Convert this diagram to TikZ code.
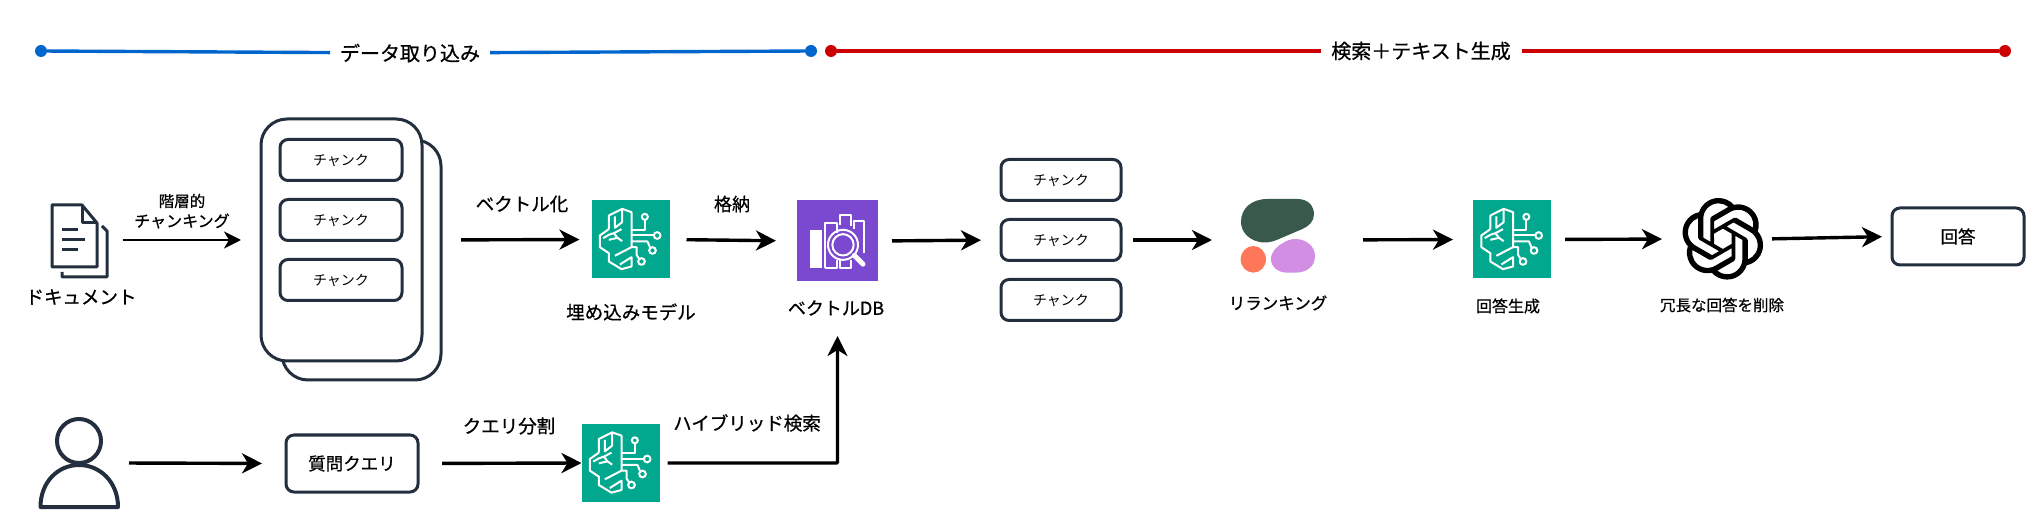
\documentclass[tikz,border=0pt]{standalone}
\usepackage{fontspec}
\setmainfont{Noto Sans CJK JP}
\newfontfamily\jpb[FakeBold=0.7]{Noto Sans CJK JP}
\usetikzlibrary{arrows.meta,svg.path}
\definecolor{ink}{HTML}{232F3E}
\definecolor{awsgreen}{HTML}{01A88D}
\definecolor{awspurple}{HTML}{7A49D0}
\definecolor{lineblue}{HTML}{0066CC}
\definecolor{linered}{HTML}{CC0000}
\definecolor{coheredark}{RGB}{57,89,77}
\definecolor{cohereorange}{RGB}{255,119,89}
\definecolor{coherepurple}{RGB}{209,142,226}
\tikzset{
  arr/.style={line width=3.4pt,-{Stealth[length=20pt,width=20pt,inset=6pt]}},
  thinarr/.style={line width=2.4pt,-{Stealth[length=17pt,width=17pt,inset=5pt]}},
  rbox/.style={draw=ink,line width=3pt,rounded corners=8pt,fill=white,outer sep=0pt,inner sep=0pt,text=black},
  card/.style={draw=ink,line width=3pt,rounded corners=26pt,fill=white,outer sep=0pt,inner sep=0pt},
  lbl/.style={inner sep=0pt,outer sep=0pt,text=black},
  ghost/.style={inner sep=0pt,outer sep=0pt},
  iconbox/.style={minimum width=78pt,minimum height=78pt,fill=#1,inner sep=0pt,outer sep=0pt},
  wire/.style={draw=white,line width=2pt,line join=round,fill=none},
  dot/.style={circle,minimum size=12pt,inner sep=0pt,outer sep=0pt,fill=#1},
}
\newcommand{\brainicon}[1]{%
  \begin{scope}[shift={(#1.north west)},x=0.3333pt,y=-0.3333pt]
    \draw[wire] (52,86) -- (52,45) -- (92,25) -- (120,35) -- (120,140) -- (70,166);
    \draw[wire] (52,86) -- (25,105) -- (25,140) -- (52,158) -- (52,183) -- (90,206) -- (120,198) -- (120,170) -- (85,192);
    \draw[wire] (120,88) -- (160,88) -- (160,58);
    \draw[wire] (120,105) -- (187,105);
    \draw[wire] (120,123) -- (168,123) -- (176,142);
    \draw[wire] (120,140) -- (135,140) -- (135,163) -- (143,175);
    \draw[wire] (92,25) -- (92,65) -- (70,82) -- (70,48);
    \draw[wire] (35,113) -- (52,103) -- (67,98) -- (90,86);
    \draw[wire] (67,98) -- (78,112) -- (92,122);
    \draw[wire] (52,118) -- (78,112);
    \draw[wire] (160,49) circle (9);
    \draw[wire] (197,105) circle (10);
    \draw[wire] (183,150) circle (10);
    \draw[wire] (150,183) circle (10);
  \end{scope}}
\begin{document}
\begin{tikzpicture}[x=1pt,y=-1pt]
\useasboundingbox (0,0) rectangle (2035,518);
% header lines
\node[dot=lineblue] (d1) at (41,51) {};
\node[dot=lineblue] (d2) at (811,51) {};
\node[lbl,minimum width=160pt,minimum height=26pt,font=\jpb\fontsize{20}{24}\selectfont] (h1) at (410,53) {データ取り込み};
\draw[lineblue,line width=3.4pt] (d1) -- (h1) -- (d2);
\node[dot=linered] (d3) at (831,51) {};
\node[dot=linered] (d4) at (2005,51) {};
\node[lbl,minimum width=201pt,minimum height=26pt,font=\jpb\fontsize{20}{24}\selectfont] (h2) at (1421,51) {検索＋テキスト生成};
\draw[linered,line width=3.4pt] (d3) -- (h2) -- (d4);
% document icon
\node[ghost,minimum width=57pt,minimum height=76pt] (doc) at (80,240) {};
\draw[ink,line width=3pt,line join=round,fill=white] (52,205) -- (82,205) -- (97,223) -- (97,267) -- (52,267) -- cycle;
\draw[ink,line width=3pt,line join=round] (82,205) -- (82,223) -- (97,223);
\draw[ink,line width=3pt,line join=round] (102,226) -- (107,231) -- (107,277) -- (62,277) -- (62,272);
\draw[ink,line width=3pt] (62,230) -- (78,230) (62,240) -- (85,240) (62,250) -- (78,250);
\node[lbl,font=\jpb\fontsize{18.5}{22}\selectfont] (doct) at (81,297) {ドキュメント};
\node[lbl,font=\jpb\fontsize{15.5}{19}\selectfont] (l1a) at (182,201) {階層的};
\node[lbl,font=\jpb\fontsize{16}{20}\selectfont] (l1b) at (182,221) {チャンキング};
% cards
\node[card,minimum width=159pt,minimum height=240pt] (back) at (361.5,260) {};
\node[card,minimum width=161pt,minimum height=242pt] (cards) at (341.5,240) {};
\node[rbox,minimum width=122pt,minimum height=41pt,font=\fontsize{14}{18}\selectfont] (c1) at (341,160) {チャンク};
\node[rbox,minimum width=122pt,minimum height=41pt,font=\fontsize{14}{18}\selectfont] (c2) at (341,220) {チャンク};
\node[rbox,minimum width=122pt,minimum height=41pt,font=\fontsize{14}{18}\selectfont] (c3) at (341,280) {チャンク};
\draw[thinarr,shorten <=14pt,shorten >=20pt] (doc.east) -- (cards.west);
% embedding
\node[iconbox=awsgreen] (g1) at (630.5,239.5) {};
\brainicon{g1}
\draw[arr,shorten <=39pt,shorten >=12pt] (cards.east) -- (g1.west);
\node[lbl,font=\jpb\fontsize{18.5}{22}\selectfont] (l2) at (522,204) {ベクトル化};
\node[lbl,font=\jpb\fontsize{18.5}{22}\selectfont] (g1t) at (631,312) {埋め込みモデル};
% vector db
\node[minimum width=81pt,minimum height=81pt,fill=awspurple,inner sep=0pt,outer sep=0pt] (db) at (837.5,241) {};
\begin{scope}[shift={(db.north west)},x=0.3333pt,y=-0.3333pt]
  \fill[white] (40,90) rectangle (75,203);
  \draw[wire] (85,203) -- (85,68) -- (120,68) -- (120,98);
  \draw[wire] (85,203) -- (120,203) -- (120,178);
  \draw[wire] (128,75) -- (128,43) -- (162,43) -- (162,78);
  \draw[wire] (128,178) -- (128,203) -- (162,203) -- (162,178);
  \draw[wire] (170,85) -- (170,63) -- (202,63) -- (202,158);
  \draw[wire] (138,133) circle (45);
  \draw[wire] (138,133) circle (32);
  \draw[white,line width=5pt,line cap=round] (172,165) -- (198,191);
\end{scope}
\draw[arr,shorten <=17pt,shorten >=21pt] (g1.east) -- (db.west);
\node[lbl,font=\jpb\fontsize{18}{22}\selectfont] (l3) at (732,204) {格納};
\node[lbl,font=\jpb\fontsize{18}{22}\selectfont] (dbt) at (836,308) {ベクトルDB};
% retrieved chunks
\node[rbox,minimum width=120pt,minimum height=41pt,font=\fontsize{14}{18}\selectfont] (r1) at (1061,180) {チャンク};
\node[rbox,minimum width=120pt,minimum height=41pt,font=\fontsize{14}{18}\selectfont] (r2) at (1061,240) {チャンク};
\node[rbox,minimum width=120pt,minimum height=41pt,font=\fontsize{14}{18}\selectfont] (r3) at (1061,300) {チャンク};
\draw[arr,shorten <=14pt,shorten >=20pt] (db.east) -- (r2.west);
% rerank logo
\node[ghost,minimum width=74pt,minimum height=74pt] (rr) at (1278,240) {};
\begin{scope}[shift={(1180,170)},x=0.3333pt,y=-0.3333pt]
  \fill[coheredark] (262,87) -- (352,87) .. controls (385,87) and (402,108) .. (402,133) .. controls (402,155) and (385,170) .. (365,178) -- (290,210) .. controls (270,218) and (250,220) .. (235,215) .. controls (205,208) and (183,185) .. (183,155) .. controls (183,115) and (215,87) .. (262,87) -- cycle;
  \fill[cohereorange] (220,268) ellipse (38 and 40);
  \fill[coherepurple] (345,207) .. controls (380,207) and (405,230) .. (405,258) .. controls (405,290) and (380,308) .. (345,308) -- (320,308) .. controls (295,308) and (273,290) .. (273,268) .. controls (273,245) and (290,230) .. (310,218) .. controls (322,211) and (335,207) .. (345,207) -- cycle;
\end{scope}
\draw[arr,shorten <=12pt,shorten >=29pt] (r2.east) -- (rr.west);
\node[lbl,font=\jpb\fontsize{16.5}{20}\selectfont] (rrt) at (1278,303) {リランキング};
% answer generation
\node[iconbox=awsgreen] (g3) at (1512,239.5) {};
\brainicon{g3}
\draw[arr,shorten <=48pt,shorten >=20pt] (rr.east) -- (g3.west);
\node[lbl,font=\jpb\fontsize{16}{20}\selectfont] (g3t) at (1508,306) {回答生成};
% openai
\node[ghost,minimum width=82pt,minimum height=82pt] (oa) at (1723,239) {};
\begin{scope}[shift={(oa.north west)},xscale=3.4,yscale=-3.4]
\fill[black] svg {M 22.2819 9.8211 a 5.9847 5.9847 0 0 0 -0.5157 -4.9108 a 6.0462 6.0462 0 0 0 -6.5098 -2.9 A 6.0651 6.0651 0 0 0 4.9807 4.1818 a 5.9847 5.9847 0 0 0 -3.9977 2.9 a 6.0462 6.0462 0 0 0 0.7427 7.0966 a 5.98 5.98 0 0 0 0.511 4.9107 a 6.051 6.051 0 0 0 6.5146 2.9001 A 5.9847 5.9847 0 0 0 13.2599 24 a 6.0557 6.0557 0 0 0 5.7718 -4.2058 a 5.9894 5.9894 0 0 0 3.9977 -2.9001 a 6.0557 6.0557 0 0 0 -0.7475 -7.0729 z
M 13.2599 22.4292 a 4.4755 4.4755 0 0 1 -2.8764 -1.0408 l 0.1419 -0.0804 l 4.7783 -2.7582 a 0.7948 0.7948 0 0 0 0.3927 -0.6813 v -6.7369 l 2.02 1.1686 l 0.038 0.052 v 5.5826 a 4.504 4.504 0 0 1 -4.4945 4.4944 z
M 3.5992 18.3038 a 4.4708 4.4708 0 0 1 -0.5346 -3.0137 l 0.142 0.0852 l 4.783 2.7582 a 0.7712 0.7712 0 0 0 0.7806 0 l 5.8428 -3.3685 v 2.3324 l -0.0332 0.0615 L 9.74 19.9502 a 4.4992 4.4992 0 0 1 -6.1408 -1.6464 z
M 2.3408 7.8956 a 4.485 4.485 0 0 1 2.3655 -1.9728 V 11.6 a 0.7664 0.7664 0 0 0 0.3879 0.6765 l 5.8144 3.3543 l -2.0201 1.1685 l -0.071 0 l -4.8303 -2.7865 A 4.504 4.504 0 0 1 2.3408 7.872 z
M 18.9371 11.7514 L 13.1038 8.364 L 15.1192 7.2 l 0.071 0 l 4.8303 2.7913 a 4.4944 4.4944 0 0 1 -0.6765 8.1042 v -5.6772 a 0.79 0.79 0 0 0 -0.407 -0.667 z
M 20.9478 8.7283 l -0.142 -0.0852 l -4.7735 -2.7818 a 0.7759 0.7759 0 0 0 -0.7854 0 L 9.409 9.2297 V 6.8974 l 0.0284 -0.0615 l 4.8303 -2.7866 a 4.4992 4.4992 0 0 1 6.6802 4.66 z
M 8.3065 12.863 l -2.02 -1.1638 l -0.038 -0.0567 V 6.0742 a 4.4992 4.4992 0 0 1 7.3757 -3.4537 l -0.142 0.0805 L 8.704 5.459 a 0.7948 0.7948 0 0 0 -0.3927 0.6813 z
M 9.4041 10.4976 l 2.602 -1.4998 l 2.6069 1.4998 v 2.9994 l -2.5974 1.4997 l -2.6067 -1.4997 z};
\end{scope}
\draw[arr,shorten <=14pt,shorten >=20pt] (g3.east) -- (oa.west);
\node[lbl,font=\jpb\fontsize{15.5}{19}\selectfont] (oat) at (1722,305) {冗長な回答を削除};
% answer
\node[rbox,minimum width=132pt,minimum height=57pt,font=\jpb\fontsize{17.5}{21}\selectfont] (ans) at (1958,236.5) {回答};
\draw[arr,shorten <=8pt,shorten >=10pt] (oa.east) -- (ans.west);
% bottom row
\node[ghost,minimum width=81pt,minimum height=88pt] (user) at (79.5,463) {};
\draw[ink,line width=4pt] (79,441) circle (22);
\draw[ink,line width=4pt,line join=round] (40.5,507) .. controls (40.5,482) and (58,465) .. (79,465) .. controls (100,465) and (118,482) .. (118,507) -- cycle;
\node[rbox,minimum width=132pt,minimum height=57pt,font=\jpb\fontsize{17.5}{21}\selectfont] (q) at (352,463.5) {質問クエリ};
\draw[arr,shorten <=9pt,shorten >=24pt] (user.east) -- (q.west);
\node[iconbox=awsgreen] (g2) at (620.5,463) {};
\brainicon{g2}
\draw[arr,shorten <=24pt,shorten >=0pt] (q.east) -- (g2.west);
\node[lbl,font=\jpb\fontsize{18.5}{22}\selectfont] (l4) at (509,426) {クエリ分割};
\draw[arr,rounded corners=1pt,shorten <=8pt,shorten >=0pt] (g2.east) -- (db.south |- g2.east) -- ([yshift=-54.5pt]db.south);
\node[lbl,font=\jpb\fontsize{18.5}{22}\selectfont] (l5) at (747,423) {ハイブリッド検索};
\end{tikzpicture}
\end{document}
